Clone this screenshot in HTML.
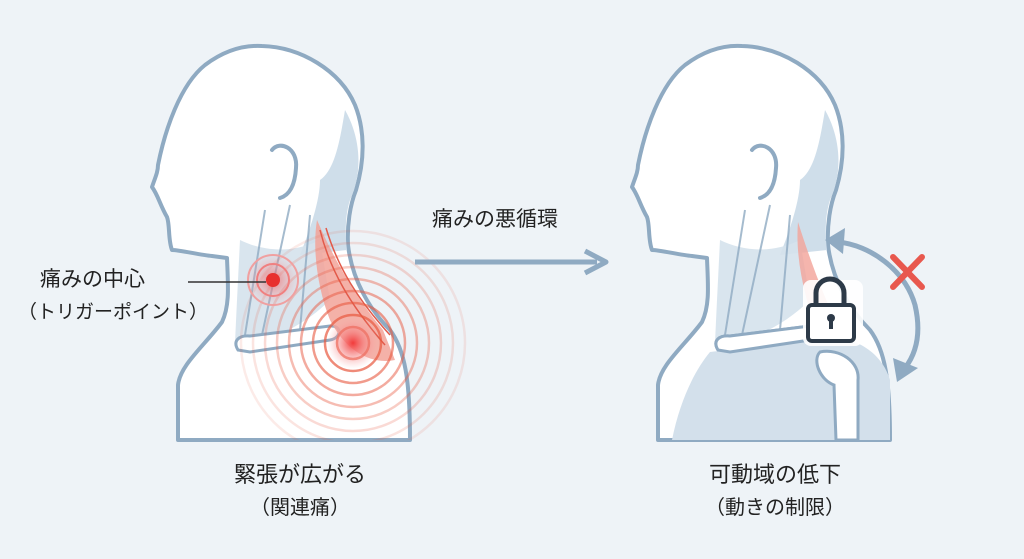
<!DOCTYPE html>
<html><head><meta charset="utf-8"><style>
html,body{margin:0;padding:0;background:#eef3f7;}
svg{display:block}
text{font-family:"Liberation Sans","Noto Sans CJK JP",sans-serif;fill:#222;}
</style></head><body>
<svg width="1024" height="559" viewBox="0 0 1024 559" xmlns="http://www.w3.org/2000/svg">
<defs>
<radialGradient id="rg" cx="0.5" cy="0.5" r="0.5"><stop offset="0" stop-color="#f23a3a"/><stop offset="0.4" stop-color="#f57a7a" stop-opacity="0.7"/><stop offset="1" stop-color="#f8b0b0" stop-opacity="0"/></radialGradient>
<clipPath id="rc"><rect x="225" y="215" width="260" height="225"/></clipPath>
<g id="fig">
 <path d="M178 440 L178 385 C180 365 205 345 222 322 C230 305 228 285 227 258 L212 256 C200 255 180 250 172 250 C168 240 170 225 167 217 C160 205 158 195 152 187 C155 178 158 172 158 165 C165 130 180 85 205 65 C225 50 245 45 262 46 C300 47 340 70 355 105 C365 130 365 160 356 190 C350 205 347 225 348 245 C352 280 370 310 390 330 C405 350 410 380 410 440 Z" fill="#fff" stroke="#8faac2" stroke-width="4" stroke-linejoin="round"/>
 <path d="M345 110 C362 140 362 175 350 200 C345 215 345 235 347 250 L300 255 C310 230 320 200 320 180 C335 170 340 140 345 110Z" fill="#cfdeea"/>
 <path d="M240 240 C260 250 290 255 320 240 L330 300 C300 330 260 345 235 345 C236 320 238 280 240 240Z" fill="#d5e2ec" opacity="0.9"/>
 <path d="M272 150 C280 140 298 148 296 168 C295 185 290 195 280 198" fill="none" stroke="#8faac2" stroke-width="4" stroke-linecap="round"/>
 <path d="M265 210 L245 335 M290 205 L262 335 M310 215 L300 330" stroke="#8faac2" stroke-width="2" fill="none" opacity="0.8"/>
 <path d="M238 350 C232 340 240 335 250 336 L330 326 C342 325 342 338 330 340 L250 352 Z" fill="#fff" stroke="#8faac2" stroke-width="3"/>
</g>
</defs>
<rect width="1024" height="559" fill="#eef3f7"/>

<!-- left figure -->
<use href="#fig"/>
<path d="M317 220 C330 250 350 290 383 330 L395 360 C370 365 345 350 330 320 C318 290 312 250 317 220Z" fill="#f2a399" opacity="0.85"/>
<path d="M320 230 C330 270 350 305 385 345 M326 228 C338 268 358 300 390 335" stroke="#e25a4a" stroke-width="1.5" fill="none"/>
<g fill="none" stroke="#e8583f" clip-path="url(#rc)">
 <circle cx="353" cy="343" r="16" stroke-opacity="0.75" stroke-width="2.5"/>
 <circle cx="353" cy="343" r="28" stroke-opacity="0.7" stroke-width="2.5"/>
 <circle cx="353" cy="343" r="40" stroke-opacity="0.6" stroke-width="2.5"/>
 <circle cx="353" cy="343" r="52" stroke-opacity="0.5" stroke-width="2.5"/>
 <circle cx="353" cy="343" r="64" stroke-opacity="0.4" stroke-width="2.5"/>
 <circle cx="353" cy="343" r="76" stroke-opacity="0.3" stroke-width="2.5"/>
 <circle cx="353" cy="343" r="88" stroke-opacity="0.22" stroke-width="2.5"/>
 <circle cx="353" cy="343" r="100" stroke-opacity="0.16" stroke-width="2.5"/>
 <circle cx="353" cy="343" r="112" stroke-opacity="0.12" stroke-width="2.5"/>
</g>
<circle cx="353" cy="343" r="26" fill="url(#rg)"/>
<circle cx="273" cy="280" r="28" fill="url(#rg)" opacity="0.6"/>
<circle cx="273" cy="280" r="25" fill="none" stroke="#f0a0a0" stroke-width="2"/>
<circle cx="273" cy="280" r="16" fill="none" stroke="#f08080" stroke-width="2"/>
<circle cx="273" cy="280" r="7" fill="#e8302e"/>
<line x1="188" y1="282" x2="266" y2="282" stroke="#333" stroke-width="1.5"/>
<text x="40" y="286" font-size="21">痛みの中心</text>
<text x="18" y="318" font-size="19">（トリガーポイント）</text>

<!-- center -->
<text x="432" y="226" font-size="21">痛みの悪循環</text>
<line x1="415" y1="262" x2="597" y2="262" stroke="#8faac2" stroke-width="5"/>
<path d="M585 251 L606 262 L585 273" fill="none" stroke="#8faac2" stroke-width="5" stroke-linejoin="round"/>

<!-- right figure -->
<g transform="translate(480,0)">
 <use href="#fig"/>
 <path d="M230 352 L330 340 C360 330 400 345 410 380 L410 440 L192 440 C200 400 215 370 230 352Z" fill="#d3e0eb"/>
 <path d="M238 350 C232 340 240 335 250 336 L330 326 C342 325 342 338 330 340 L250 352 Z" fill="#fff" stroke="#8faac2" stroke-width="3"/>
 <path d="M340 352 C360 348 380 362 378 380 L378 440 L356 440 L354 385 C340 380 332 360 340 352Z" fill="#fff" stroke="#8faac2" stroke-width="3"/>
 <path d="M318 222 C330 260 345 300 360 330 L340 340 C325 300 315 260 318 222Z" fill="#f2a399" opacity="0.8"/>
</g>
<!-- lock -->
<rect x="803" y="280" width="60" height="66" rx="8" fill="#fff" opacity="0.9"/>
<path d="M816 305 L816 293 A14 14 0 0 1 844 293 L844 305" fill="none" stroke="#2d3a48" stroke-width="5"/>
<rect x="808" y="305" width="46" height="36" rx="4" fill="#fff" stroke="#2d3a48" stroke-width="4"/>
<circle cx="831" cy="318" r="4" fill="#2d3a48"/><rect x="829" y="318" width="4" height="11" fill="#2d3a48"/>
<!-- arc arrow -->
<path d="M838 242 C870 245 905 270 915 305 C922 335 915 355 905 368" fill="none" stroke="#8faac2" stroke-width="5"/>
<path d="M825 240 L845 228 L843 254 Z" fill="#8faac2"/>
<path d="M897 382 L893 358 L918 368 Z" fill="#8faac2"/>
<path d="M893 257 L922 287 M922 257 L893 287" stroke="#e8584e" stroke-width="6" stroke-linecap="round"/>

<text x="300" y="482" font-size="22" text-anchor="middle">緊張が広がる</text>
<text x="300" y="514" font-size="20" text-anchor="middle">（関連痛）</text>
<text x="775" y="482" font-size="22" text-anchor="middle">可動域の低下</text>
<text x="775" y="514" font-size="20" text-anchor="middle">（動きの制限）</text>
</svg>
</body></html>
